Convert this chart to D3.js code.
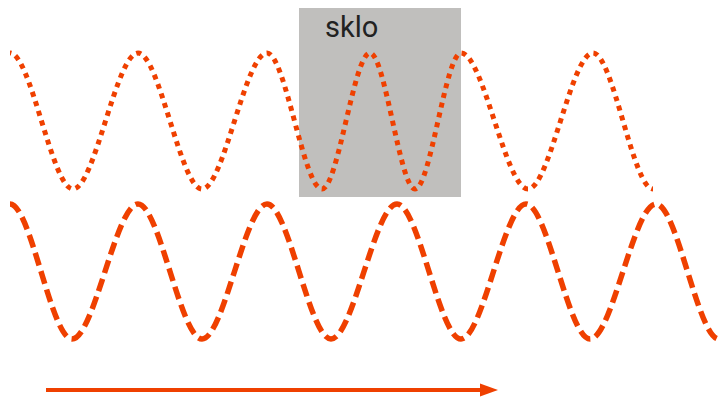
<!DOCTYPE html>
<html lang="cs">
<head>
  <meta charset="UTF-8">
  <title>sklo</title>
  <script src="https://d3js.org/d3.v7.min.js"></script>
  <style>
    html, body { margin: 0; padding: 0; background: #fff; }
  </style>
</head>
<body>
  <svg id="svg" width="722" height="406"></svg>
  <script>
    // extrema of the wave that crosses the glass (x in px, +1 crest / -1 trough)
    const topWaveX = [10, 73, 138, 202, 267, 322, 370, 415, 461, 528, 593, 653];
    const topWaveY = [1, -1, 1, -1, 1, -1, 1, -1, 1, -1, 1, -1];

    // extrema of the reference wave in air
    const bottomWaveX = [10, 72, 138, 202, 267, 331, 397, 461, 526, 590, 656, 719];
    const bottomWaveY = [1, -1, 1, -1, 1, -1, 1, -1, 1, -1, 1, -1];

    // glass block (x from..to) and its label
    const glassX = [299, 461];
    const glassLabel = "sklo";

    // direction arrow
    const arrowX = [46, 498];

    const orange = "#ef4000";
    const svg = d3.select("svg");

    const x = d3.scaleLinear().domain([0, 722]).range([0, 722]);
    const yTop = d3.scaleLinear().domain([-1, 1]).range([189, 53]);
    const yBottom = d3.scaleLinear().domain([-1, 1]).range([339, 204]);

    // glass
    svg.append("rect")
      .attr("x", x(glassX[0]))
      .attr("y", 8)
      .attr("width", x(glassX[1]) - x(glassX[0]))
      .attr("height", 189)
      .attr("fill", "#c0bfbd");

    svg.append("text")
      .text(glassLabel)
      .attr("x", x(glassX[0]) + 26)
      .attr("y", 37)
      .attr("fill", "#222")
      .attr("font-family", "Roboto")
      .attr("font-size", "29px");

    // mirror one extremum past each end so the curve is flat there too,
    // then clip back to the measured span
    function drawWave(xs, ys, yScale, id, width, dash) {
      const n = xs.length;
      const pts = xs.map((v, i) => [v, ys[i]]);
      pts.unshift([2 * xs[0] - xs[1], ys[1]]);
      pts.push([2 * xs[n - 1] - xs[n - 2], ys[n - 2]]);

      svg.append("clipPath").attr("id", id)
        .append("rect")
        .attr("x", x(xs[0]))
        .attr("y", 0)
        .attr("width", x(xs[n - 1]) - x(xs[0]))
        .attr("height", 406);

      const line = d3.line()
        .x(d => x(d[0]))
        .y(d => yScale(d[1]))
        .curve(d3.curveMonotoneX);

      svg.append("path")
        .attr("d", line(pts))
        .attr("clip-path", `url(#${id})`)
        .attr("fill", "none")
        .attr("stroke", orange)
        .attr("stroke-width", width)
        .attr("stroke-dasharray", dash);
    }

    drawWave(topWaveX, topWaveY, yTop, "clipTop", 5, "5,5");
    drawWave(bottomWaveX, bottomWaveY, yBottom, "clipBottom", 5.5, "13,6");

    // arrow
    const ay = 390;
    svg.append("line")
      .attr("x1", x(arrowX[0]))
      .attr("x2", x(arrowX[1]) - 14)
      .attr("y1", ay)
      .attr("y2", ay)
      .attr("stroke", orange)
      .attr("stroke-width", 4);

    svg.append("path")
      .attr("d", `M${x(arrowX[1])},${ay} L${x(arrowX[1]) - 18},${ay - 6.5} L${x(arrowX[1]) - 18},${ay + 6.5} Z`)
      .attr("fill", orange);
  </script>
</body>
</html>
